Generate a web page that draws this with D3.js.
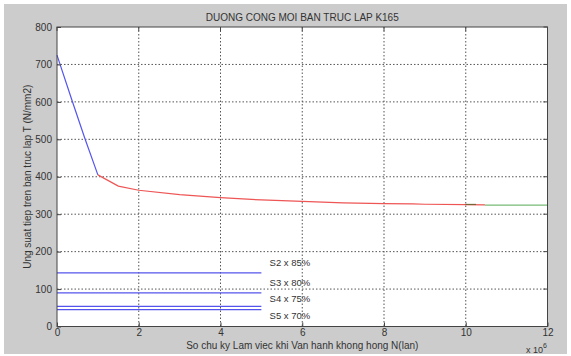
<!DOCTYPE html>
<html>
<head>
<meta charset="utf-8">
<script src="https://cdn.jsdelivr.net/npm/d3@7"></script>
<style>
body { margin: 0; background: #fff; }
text { font-family: "Liberation Sans", Arial, sans-serif; fill: #333; }
</style>
</head>
<body>
<div id="chart"></div>
<script>
// values, N in units of 10^6
var blueCurve = [[0, 725], [0.37, 603], [0.68, 503], [1.0, 405]];
var redCurve = [[1.0, 405], [1.5, 375], [2, 364], [3, 352], [4, 344], [5, 338], [6, 334],
    [7, 330], [8, 328], [8.7, 327.5], [9, 326.5], [10, 325.5], [10.47, 325]];
var greenCurve = [[10.47, 324], [12, 324]];
var darkPiece = [[10.0, 326], [10.25, 326]];
var levels = [
    { name: "S2 x 85%", value: 143, labelY: 170 },
    { name: "S3 x 80%", value: 90, labelY: 117 },
    { name: "S4 x 75%", value: 54, labelY: 74 },
    { name: "S5 x 70%", value: 45, labelY: 28 }
];
var levelEnd = 5;
var labelX = 5.2;
var xTicks = [0, 2, 4, 6, 8, 10, 12];
var yTicks = [0, 100, 200, 300, 400, 500, 600, 700, 800];

var W = 571, H = 356;
var margin = { top: 27, right: 23.5, bottom: 29.5, left: 57 };
var width = W - margin.left - margin.right;
var height = H - margin.top - margin.bottom;

var svg = d3.select('#chart').append('svg')
    .attr('width', W)
    .attr('height', H);

svg.append('rect')
    .attr('x', 4).attr('y', 4)
    .attr('width', 563).attr('height', 350)
    .attr('fill', '#cccccc');

var g = svg.append('g')
    .attr('transform', 'translate(' + margin.left + ',' + margin.top + ')');

var x = d3.scaleLinear().domain([0, 12]).range([0, width]);
var y = d3.scaleLinear().domain([0, 800]).range([height, 0]);

g.append('rect')
    .attr('width', width).attr('height', height)
    .attr('fill', '#fff');

// dotted grid
g.selectAll('.vgrid').data(xTicks.slice(1, -1)).enter().append('line')
    .attr('x1', function(d) { return x(d); })
    .attr('x2', function(d) { return x(d); })
    .attr('y1', 0).attr('y2', height)
    .attr('stroke', '#555').attr('stroke-width', 1)
    .attr('stroke-dasharray', '1.5,2');
g.selectAll('.hgrid').data(yTicks.slice(1, -1)).enter().append('line')
    .attr('y1', function(d) { return y(d); })
    .attr('y2', function(d) { return y(d); })
    .attr('x1', 0).attr('x2', width)
    .attr('stroke', '#555').attr('stroke-width', 1)
    .attr('stroke-dasharray', '1.5,2');

var line = d3.line()
    .x(function(d) { return x(d[0]); })
    .y(function(d) { return y(d[1]); });

g.append('path').attr('d', line(blueCurve))
    .attr('fill', 'none').attr('stroke', '#5555ee').attr('stroke-width', 1.2);
g.append('path').attr('d', line(redCurve))
    .attr('fill', 'none').attr('stroke', '#ee5555').attr('stroke-width', 1.2);
g.append('path').attr('d', line(greenCurve))
    .attr('fill', 'none').attr('stroke', '#77bb77').attr('stroke-width', 1.2);
g.append('path').attr('d', line(darkPiece))
    .attr('fill', 'none').attr('stroke', '#776633').attr('stroke-width', 1.2);

g.selectAll('.level').data(levels).enter().append('line')
    .attr('x1', x(0)).attr('x2', x(levelEnd))
    .attr('y1', function(d) { return y(d.value); })
    .attr('y2', function(d) { return y(d.value); })
    .attr('stroke', '#5555ee').attr('stroke-width', 1.2);

g.selectAll('.levelLabel').data(levels).enter().append('text')
    .attr('x', x(labelX))
    .attr('y', function(d) { return y(d.labelY); })
    .attr('dy', '0.35em')
    .style('font-size', '9.5px')
    .text(function(d) { return d.name; });

// axes
var xAxis = d3.axisBottom(x).tickValues(xTicks).tickSize(-4).tickPadding(2);
var yAxis = d3.axisLeft(y).tickValues(yTicks).tickSize(-4).tickPadding(5);

var xg = g.append('g').attr('transform', 'translate(0,' + height + ')').call(xAxis);
var yg = g.append('g').call(yAxis);
[xg, yg].forEach(function(a) {
    a.select('.domain').remove();
    a.selectAll('line').attr('stroke', '#444');
    a.selectAll('text').style('font-size', '10px').attr('fill', '#333')
        .style('font-family', '"Liberation Sans", Arial, sans-serif');
});
// top and right ticks like the box
g.selectAll('.tt').data(xTicks).enter().append('line')
    .attr('x1', function(d) { return x(d); }).attr('x2', function(d) { return x(d); })
    .attr('y1', 0).attr('y2', 4).attr('stroke', '#444');
g.selectAll('.rt').data(yTicks).enter().append('line')
    .attr('y1', function(d) { return y(d); }).attr('y2', function(d) { return y(d); })
    .attr('x1', width).attr('x2', width - 4).attr('stroke', '#444');

g.append('rect')
    .attr('width', width).attr('height', height)
    .attr('fill', 'none').attr('stroke', '#444').attr('stroke-width', 1);

svg.append('text')
    .attr('x', margin.left + width / 2).attr('y', 21)
    .attr('text-anchor', 'middle')
    .style('font-size', '10px')
    .text('DUONG CONG MOI BAN TRUC LAP K165');

svg.append('text')
    .attr('x', margin.left + width / 2).attr('y', 348.5)
    .attr('text-anchor', 'middle')
    .style('font-size', '10px')
    .text('So chu ky Lam viec khi Van hanh khong hong N(lan)');

var ex = svg.append('text')
    .attr('x', 526).attr('y', 353)
    .style('font-size', '9px');
ex.append('tspan').text('x 10');
ex.append('tspan').attr('dy', -5).style('font-size', '7px').text('6');

svg.append('text')
    .attr('transform', 'translate(31,' + (margin.top + height / 2) + ') rotate(-90)')
    .attr('text-anchor', 'middle')
    .style('font-size', '10px')
    .text('Ung suat tiep tren ban truc lap T (N/mm2)');
</script>
</body>
</html>
